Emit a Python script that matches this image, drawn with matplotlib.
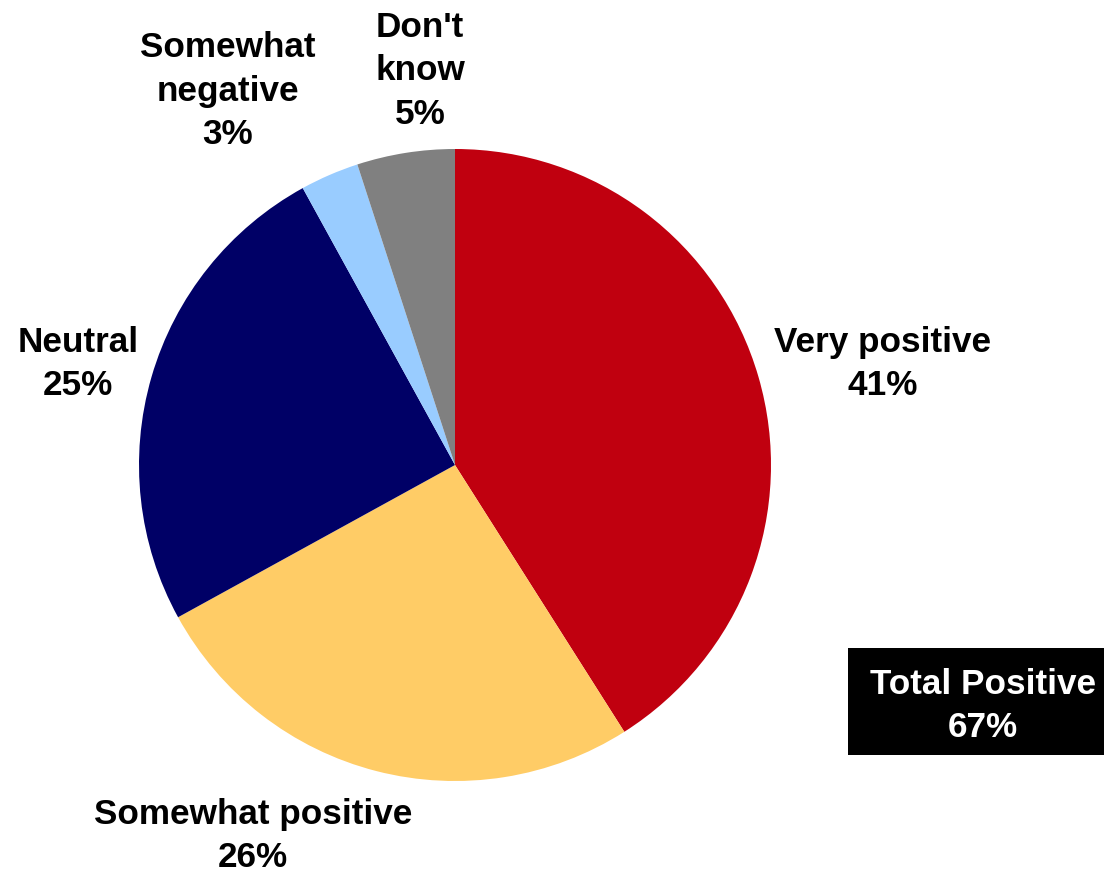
import matplotlib
matplotlib.use("Agg")
import matplotlib.pyplot as plt
from matplotlib.patches import Rectangle

categories = ["Very positive", "Somewhat positive", "Neutral", "Somewhat negative", "Don't know"]
values = [41, 26, 25, 3, 5]
label_texts = ["Very positive", "Somewhat positive", "Neutral", "Somewhat\nnegative", "Don't\nknow"]
colors = ["#C0000F", "#FFCC66", "#000066", "#99CCFF", "#808080"]
total_positive_label = "Total Positive"
total_positive = 67

W, H = 1104, 874
fig = plt.figure(figsize=(W / 100, H / 100), dpi=100)
ax = fig.add_axes([0, 0, 1, 1])
ax.set_xlim(0, W)
ax.set_ylim(0, H)
ax.set_aspect("equal")
ax.axis("off")

cx, cy, r = 455, H - 465, 316
ax.pie(values, colors=colors, startangle=90, counterclock=False,
       center=(cx, cy), radius=r, frame=True,
       wedgeprops=dict(linewidth=0))
ax.set_xlim(0, W)
ax.set_ylim(0, H)
ax.axis("off")

font = dict(family=["Liberation Sans", "DejaVu Sans"], fontweight="bold", fontsize=25.3)
label_pos = [(883, 364), (253, 836), (78, 364), (228, 91), (420, 71)]
for txt, v, (x, y) in zip(label_texts, values, label_pos):
    ax.text(x, H - y, f"{txt}\n{v}%", ha="center", va="center",
            linespacing=1.42, color="black", **font)

ax.add_patch(Rectangle((848, H - 755), 256, 107, facecolor="black", edgecolor="none"))
ax.text(983, H - 706, f"{total_positive_label}\n{total_positive}%", ha="center", va="center",
        linespacing=1.42, color="white", **font)

fig.savefig("out.png", dpi=100)
